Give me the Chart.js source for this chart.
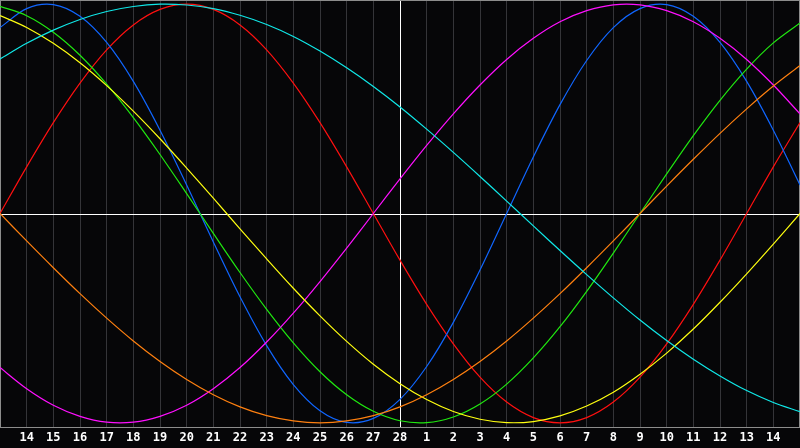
<!DOCTYPE html>
<html>
<head>
<meta charset="utf-8">
<script src="https://cdn.jsdelivr.net/npm/chart.js@4/dist/chart.umd.min.js"></script>
<style>
  html, body { margin: 0; padding: 0; background: #060608; }
  #caja { width: 800px; height: 448px; }
</style>
</head>
<body>
<div id="caja"><canvas id="grafica"></canvas></div>
<script>
/* ---- datos (valores en %, -100..100) ---- */
const dias = ['13', '14', '15', '16', '17', '18', '19', '20', '21', '22', '23', '24', '25', '26', '27', '28',
              '1', '2', '3', '4', '5', '6', '7', '8', '9', '10', '11', '12', '13', '14', '15'];

const fisico = [88.8, 97.9, 99.8, 94.2, 81.7, 63.1, 39.8, 13.6, -13.6, -39.8, -63.1, -81.7, -94.2, -99.8, -97.9, -88.8,
                -73.1, -52.0, -27.0, 0, 27.0, 52.0, 73.1, 88.8, 97.9, 99.8, 94.2, 81.7, 63.1, 39.8, 13.6];
const emocional = [0, 22.3, 43.4, 62.3, 78.2, 90.1, 97.5, 100, 97.5, 90.1, 78.2, 62.3, 43.4, 22.3, 0, -22.3,
                   -43.4, -62.3, -78.2, -90.1, -97.5, -100, -97.5, -90.1, -78.2, -62.3, -43.4, -22.3, 0, 22.3, 43.4];
const intelectual = [99.0, 94.5, 86.6, 75.6, 61.8, 45.8, 28.2, 9.5, -9.5, -28.2, -45.8, -61.8, -75.6, -86.6, -94.5, -99.0,
                     -99.9, -97.2, -91.0, -81.5, -69.0, -54.1, -37.2, -18.9, 0, 18.9, 37.2, 54.1, 69.0, 81.5, 91.0];
const intuitivo = [-73.6, -83.7, -91.6, -96.9, -99.7, -99.7, -96.9, -91.6, -83.7, -73.6, -61.4, -47.6, -32.5, -16.5, 0, 16.5,
                   32.5, 47.6, 61.4, 73.6, 83.7, 91.6, 96.9, 99.7, 99.7, 96.9, 91.6, 83.7, 73.6, 61.4, 47.6];
const estetico = [94.6, 88.9, 81.3, 72.0, 61.1, 48.9, 35.7, 21.7, 7.3, -7.3, -21.7, -35.7, -48.9, -61.1, -72.0, -81.3,
                  -88.9, -94.6, -98.3, -99.9, -99.4, -96.7, -92.0, -85.4, -76.8, -66.7, -55.2, -42.4, -28.8, -14.6, 0];
const conciencia = [0, -13.1, -25.9, -38.3, -50.0, -60.9, -70.7, -79.3, -86.6, -92.4, -96.6, -99.1, -100, -99.1, -96.6, -92.4,
                    -86.6, -79.3, -70.7, -60.9, -50.0, -38.3, -25.9, -13.1, 0, 13.1, 25.9, 38.3, 50.0, 60.9, 70.7];
const espiritual = [73.8, 81.3, 87.6, 92.7, 96.5, 98.9, 100, 99.6, 97.9, 94.7, 90.3, 84.6, 77.6, 69.6, 60.7, 50.9,
                    40.3, 29.2, 17.7, 5.9, -5.9, -17.7, -29.2, -40.3, -50.9, -60.7, -69.6, -77.6, -84.6, -90.3, -94.7];

const indiceHoy = 15;

/* ---- lineas blancas del centro y marco gris ---- */
const marco = {
    id: 'marco',
    beforeDatasetsDraw(chart) {
        const { ctx, chartArea: a, scales } = chart;
        const x0 = Math.round(scales.x.getPixelForValue(indiceHoy)) + 0.5;
        const y0 = Math.round(scales.y.getPixelForValue(0)) + 0.5;
        ctx.save();
        ctx.lineWidth = 1;
        ctx.strokeStyle = '#ffffff';
        ctx.beginPath();
        ctx.moveTo(a.left, y0); ctx.lineTo(a.right, y0);
        ctx.moveTo(x0, a.top); ctx.lineTo(x0, a.bottom);
        ctx.stroke();
        ctx.strokeStyle = '#8c8c8c';
        ctx.strokeRect(a.left + 0.5, a.top + 0.5, a.right - a.left - 1, a.bottom - a.top);
        ctx.restore();
    }
};

function serie(datos, color) {
    return { data: datos, borderColor: color, borderWidth: 1.2, pointRadius: 0, tension: 0.33, fill: false };
}

new Chart(document.getElementById('grafica'), {
    type: 'line',
    data: {
        labels: dias,
        datasets: [
            serie(espiritual, '#10e8e8'),
            serie(conciencia, '#ff8010'),
            serie(estetico, '#ffff10'),
            serie(intuitivo, '#ff10ff'),
            serie(intelectual, '#20e810'),
            serie(fisico, '#1066ff'),
            serie(emocional, '#ff1010')
        ]
    },
    options: {
        responsive: true,
        maintainAspectRatio: false,
        animation: false,
        layout: { padding: 0, autoPadding: false },
        plugins: { legend: { display: false }, tooltip: { enabled: false } },
        scales: {
            x: {
                offset: false,
                grid: { color: '#343438', drawTicks: false },
                border: { color: '#8c8c8c' },
                ticks: {
                    color: '#ffffff',
                    autoSkip: false,
                    maxRotation: 0,
                    padding: 0,
                    font: { family: 'DejaVu Sans Mono', size: 12, weight: 'bold', lineHeight: 1.75 },
                    callback: (v, i) => (i === 0 || i === dias.length - 1) ? '' : dias[i]
                }
            },
            y: {
                display: false,
                min: -102,
                max: 102
            }
        }
    },
    plugins: [marco]
});
</script>
</body>
</html>
